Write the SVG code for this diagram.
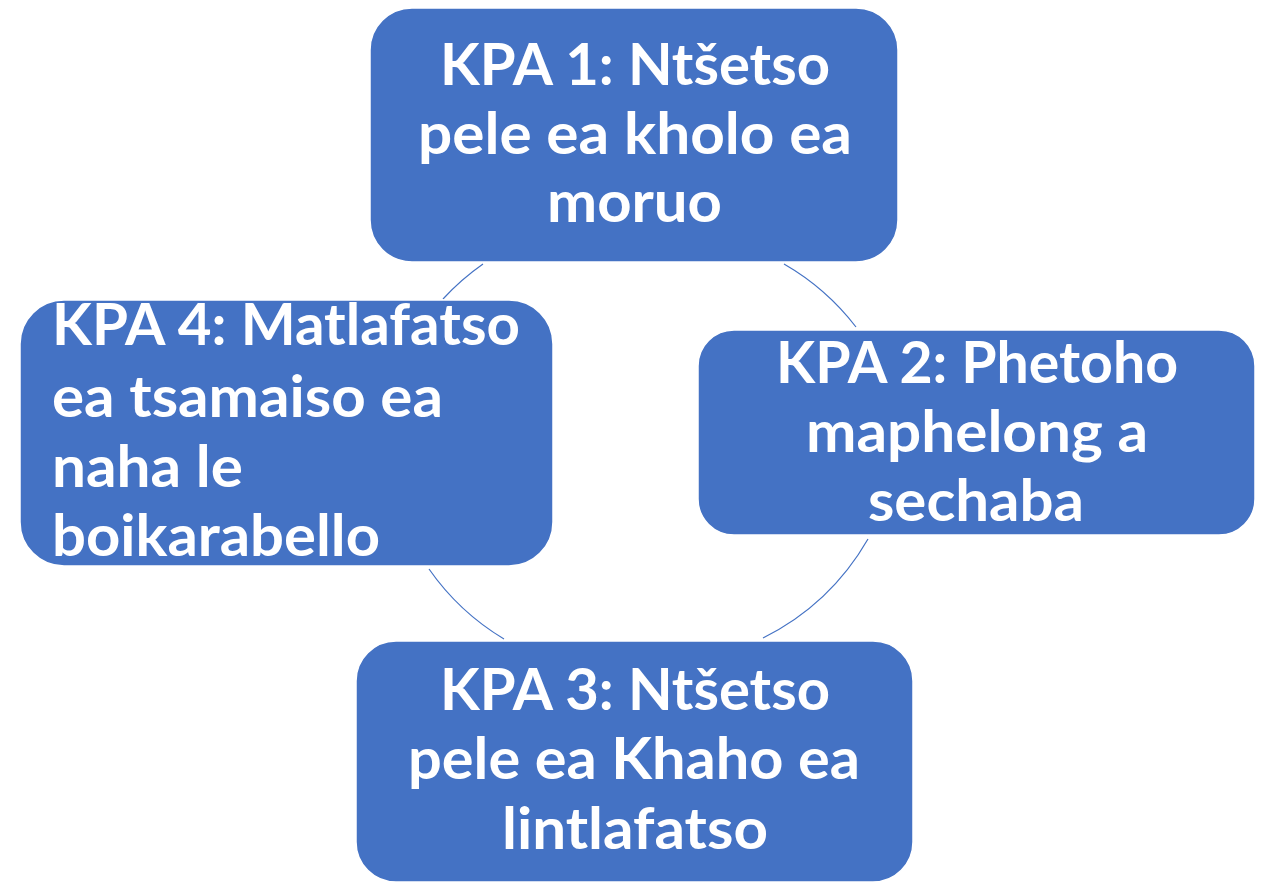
<svg xmlns="http://www.w3.org/2000/svg" width="1263" height="884" viewBox="0 0 1263 884">
<style>
.box{fill:#4472C4;stroke:#FFFFFF;stroke-width:1.5}
.t{font-family:Lato,"Open Sans","Liberation Sans",sans-serif;font-weight:700;font-size:58px;fill:#FFFFFF}
.c{text-anchor:start}
.arc{fill:none;stroke:#4472C4;stroke-width:1.2}
</style>
<rect width="1263" height="884" fill="#FFFFFF"/>
<g id="connectors">
<path class="arc" d="M443,299 A245,245 0 0,1 483,264"/>
<path class="arc" d="M784,264 A245,245 0 0,1 856,327"/>
<path class="arc" d="M868,539 A250,250 0 0,1 763,638"/>
<path class="arc" d="M504,639 A245,245 0 0,1 429,569"/>
</g>
<g id="kpa1">
<rect class="box" x="370" y="8" width="528" height="254" rx="42" ry="42"/>
<text class="t" x="440" y="85" textLength="390" lengthAdjust="spacingAndGlyphs">KPA 1: Ntšetso</text>
<text class="t" x="418" y="154" textLength="434" lengthAdjust="spacingAndGlyphs">pele ea kholo ea</text>
<text class="t" x="547" y="222" textLength="175" lengthAdjust="spacingAndGlyphs">moruo</text>
</g>
<g id="kpa2">
<rect class="box" x="698" y="330" width="557" height="205" rx="36" ry="36"/>
<text class="t" x="776" y="383" textLength="402" lengthAdjust="spacingAndGlyphs">KPA 2: Phetoho</text>
<text class="t" x="806" y="452" textLength="342" lengthAdjust="spacingAndGlyphs">maphelong a</text>
<text class="t" x="868" y="521" textLength="216" lengthAdjust="spacingAndGlyphs">sechaba</text>
</g>
<g id="kpa3">
<rect class="box" x="356" y="641" width="557" height="241" rx="40" ry="40"/>
<text class="t" x="440" y="710" textLength="390" lengthAdjust="spacingAndGlyphs">KPA 3: Ntšetso</text>
<text class="t" x="408" y="779" textLength="452" lengthAdjust="spacingAndGlyphs">pele ea Khaho ea</text>
<text class="t" x="502" y="849" textLength="266" lengthAdjust="spacingAndGlyphs">lintlafatso</text>
</g>
<g id="kpa4">
<rect class="box" x="20" y="300" width="533" height="266" rx="44" ry="44"/>
<text class="t" x="52" y="345" textLength="468" lengthAdjust="spacingAndGlyphs">KPA 4: Matlafatso</text>
<text class="t" x="52" y="417" textLength="391" lengthAdjust="spacingAndGlyphs">ea tsamaiso ea</text>
<text class="t" x="52" y="487" textLength="191" lengthAdjust="spacingAndGlyphs">naha le</text>
<text class="t" x="52" y="556" textLength="328" lengthAdjust="spacingAndGlyphs">boikarabello</text>
</g>
</svg>
